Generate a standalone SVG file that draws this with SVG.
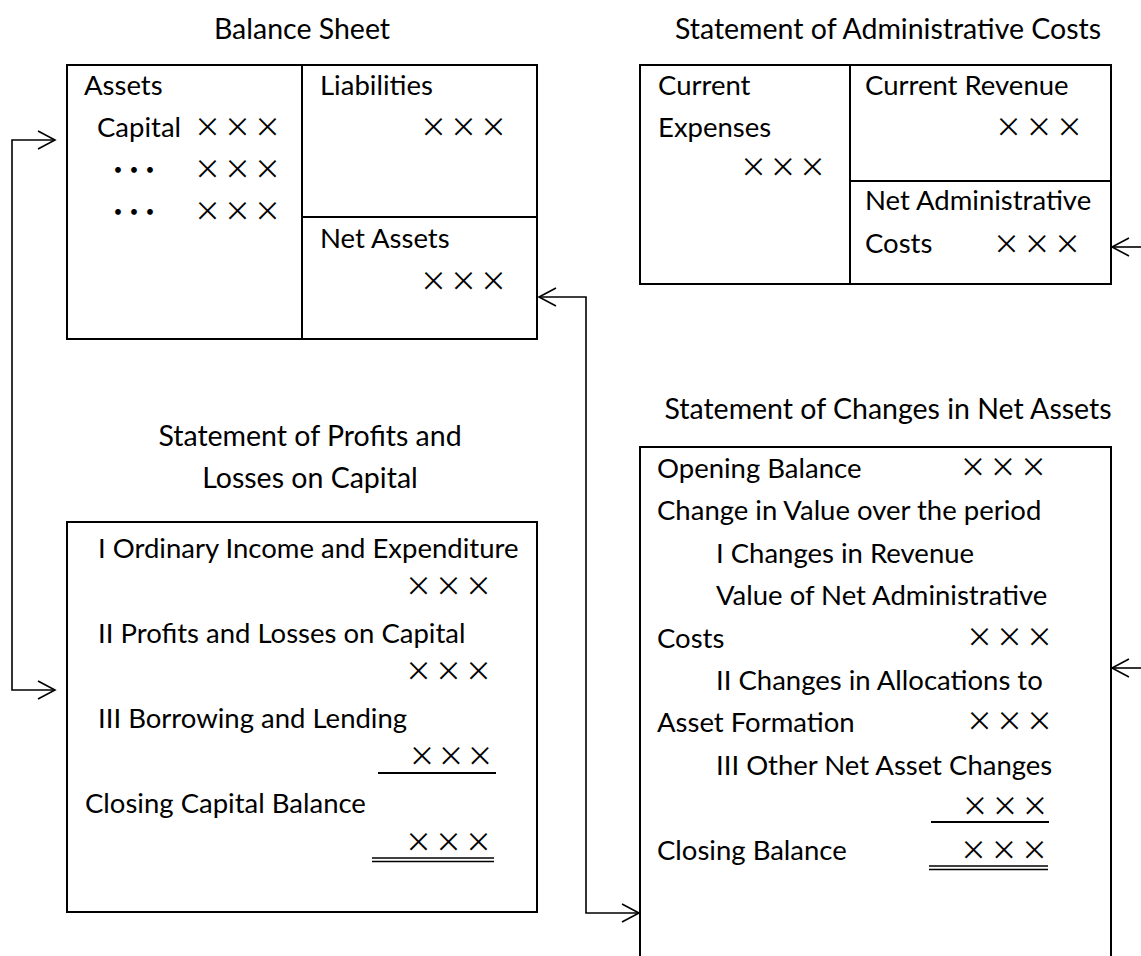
<svg xmlns="http://www.w3.org/2000/svg" width="1141" height="956" viewBox="0 0 1141 956">
  <style>
    .t { font-family: Lato, "Liberation Sans", sans-serif; font-size: 27.5px; fill: #000; }
    .h { font-family: Lato, "Liberation Sans", sans-serif; font-size: 28.5px; fill: #000; text-anchor: middle; }
    .x { font-family: "Noto Sans CJK JP", "DejaVu Sans", sans-serif; font-size: 27px; fill: #000; text-anchor: middle; }
    .box { fill: none; stroke: #000; stroke-width: 2; }
    .rule { stroke: #000; stroke-width: 2; }
    .rule2 { stroke: #000; stroke-width: 1.3; }
    .conn { fill: none; stroke: #000; stroke-width: 1.6; }
  </style>
  <defs>
    <marker id="arrow" markerUnits="userSpaceOnUse" markerWidth="26" markerHeight="26" viewBox="-22 -13 26 26" refX="0" refY="0" orient="auto-start-reverse">
      <path d="M-17,-9 L0,0 L-17,9" fill="none" stroke="#000" stroke-width="1.6"/>
    </marker>
  </defs>
  <rect width="1141" height="956" fill="#fff"/>

  <!-- Balance Sheet -->
  <g id="balance-sheet">
    <text class="h" x="302" y="39">Balance Sheet</text>
    <rect class="box" x="67" y="65" width="470" height="274"/>
    <line class="box" x1="302" y1="65" x2="302" y2="339"/>
    <line class="box" x1="302" y1="217" x2="537" y2="217"/>
    <text class="t" x="84" y="95">Assets</text>
    <text class="t" x="97" y="137">Capital</text>
    <text class="x" x="207.5 237.5 267.5" y="137">×××</text>
    <text class="x" x="118 134 150" y="180">・・・</text>
    <text class="x" x="207.5 237.5 267.5" y="179">×××</text>
    <text class="x" x="118 134 150" y="222">・・・</text>
    <text class="x" x="207.5 237.5 267.5" y="221">×××</text>
    <text class="t" x="320" y="95">Liabilities</text>
    <text class="x" x="433.5 463.5 493.5" y="137">×××</text>
    <text class="t" x="320" y="248">Net Assets</text>
    <text class="x" x="433.5 463.5 493.5" y="291">×××</text>
  </g>

  <!-- Statement of Administrative Costs -->
  <g id="administrative-costs">
    <text class="h" x="888" y="39">Statement of Administrative Costs</text>
    <rect class="box" x="640" y="65" width="471" height="219"/>
    <line class="box" x1="850" y1="65" x2="850" y2="284"/>
    <line class="box" x1="850" y1="181" x2="1111" y2="181"/>
    <text class="t" x="658" y="95">Current</text>
    <text class="t" x="658" y="137">Expenses</text>
    <text class="x" x="753.5 783 812.5" y="177">×××</text>
    <text class="t" x="865" y="95">Current Revenue</text>
    <text class="x" x="1008.5 1039 1069.5" y="137">×××</text>
    <text class="t" x="865" y="210">Net Administrative</text>
    <text class="t" x="865" y="253">Costs</text>
    <text class="x" x="1006.5 1037 1067.5" y="254">×××</text>
  </g>

  <!-- Statement of Profits and Losses on Capital -->
  <g id="capital-profit-loss">
    <text class="h" x="310" y="446">Statement of Profits and</text>
    <text class="h" x="310" y="488">Losses on Capital</text>
    <rect class="box" x="67" y="522" width="470" height="390"/>
    <text class="t" x="98" y="558">I Ordinary Income and Expenditure</text>
    <text class="x" x="418.5 448.5 478.5" y="596">×××</text>
    <text class="t" x="98" y="643">II Profits and Losses on Capital</text>
    <text class="x" x="418.5 448.5 478.5" y="681">×××</text>
    <text class="t" x="98" y="728">III Borrowing and Lending</text>
    <text class="x" x="422 451 480" y="766">×××</text>
    <line class="rule" x1="378" y1="773" x2="496" y2="773"/>
    <text class="t" x="85" y="813">Closing Capital Balance</text>
    <text class="x" x="418.5 448.5 478.5" y="852">×××</text>
    <line class="rule2" x1="372" y1="858" x2="494" y2="858"/>
    <line class="rule2" x1="372" y1="861.5" x2="494" y2="861.5"/>
  </g>

  <!-- Statement of Changes in Net Assets -->
  <g id="net-asset-changes">
    <text class="h" x="888" y="419">Statement of Changes in Net Assets</text>
    <rect class="box" x="640" y="447" width="471" height="530"/>
    <text class="t" x="657" y="478">Opening Balance</text>
    <text class="x" x="973 1003 1033.5" y="477">×××</text>
    <text class="t" x="657" y="520">Change in Value over the period</text>
    <text class="t" x="716" y="563">I Changes in Revenue</text>
    <text class="t" x="716" y="605">Value of Net Administrative</text>
    <text class="t" x="657" y="648">Costs</text>
    <text class="x" x="979.5 1009.5 1039.5" y="647">×××</text>
    <text class="t" x="716" y="690">II Changes in Allocations to</text>
    <text class="t" x="657" y="732">Asset Formation</text>
    <text class="x" x="979.5 1009.5 1039.5" y="731">×××</text>
    <text class="t" x="716" y="775">III Other Net Asset Changes</text>
    <text class="x" x="975 1005 1035" y="816">×××</text>
    <line class="rule" x1="931" y1="822" x2="1049" y2="822"/>
    <text class="t" x="657" y="860">Closing Balance</text>
    <text class="x" x="973.5 1004 1034.5" y="860">×××</text>
    <line class="rule2" x1="929" y1="866" x2="1048" y2="866"/>
    <line class="rule2" x1="929" y1="869.5" x2="1048" y2="869.5"/>
  </g>

  <!-- Connectors -->
  <g id="connectors">
    <path class="conn" d="M55,140 H12 V690 H55" marker-start="url(#arrow)" marker-end="url(#arrow)"/>
    <path class="conn" d="M539,297 H586 V913 H639" marker-start="url(#arrow)" marker-end="url(#arrow)"/>
    <path class="conn" d="M1141,247 H1112" marker-end="url(#arrow)"/>
    <path class="conn" d="M1141,668 H1112" marker-end="url(#arrow)"/>
  </g>
</svg>
